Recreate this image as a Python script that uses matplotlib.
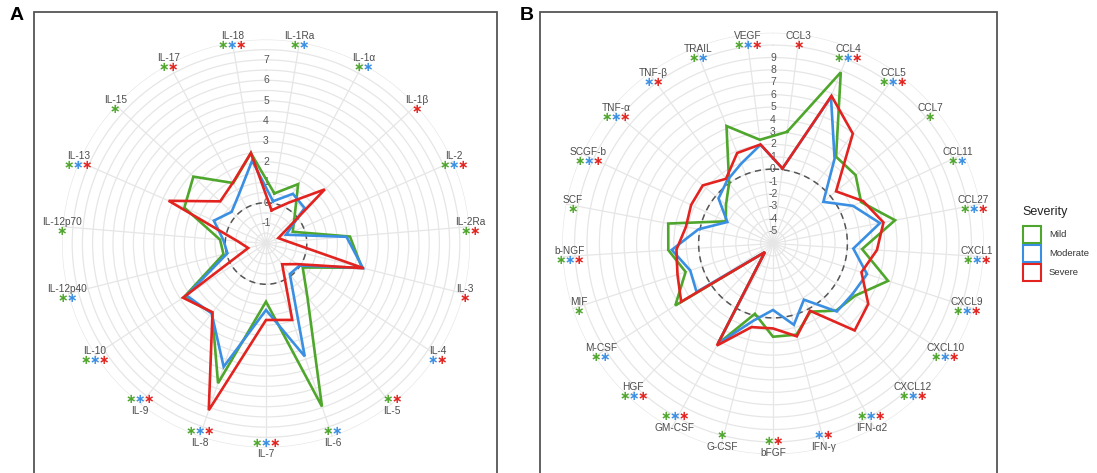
import numpy as np
import matplotlib
matplotlib.use('Agg')
import matplotlib.pyplot as plt
from matplotlib.patches import Rectangle

plt.rcParams['font.family'] = ['Liberation Sans', 'DejaVu Sans']

# ---- data ----
severity = ['Mild', 'Moderate', 'Severe']
sev_colors = ['#4fa62c', '#3a8fe3', '#e2231f']
star_key = {'G': 0, 'B': 1, 'R': 2}

cyto_a = ['IL-1Ra', 'IL-1α', 'IL-1β', 'IL-2', 'IL-2Ra', 'IL-3', 'IL-4', 'IL-5',
          'IL-6', 'IL-7', 'IL-8', 'IL-9', 'IL-10', 'IL-12p40', 'IL-12p70',
          'IL-13', 'IL-15', 'IL-17', 'IL-18']
mild_a = [0.49, 1.31, -0.1, -0.57, 2.13, 2.85, 0.15, 1.3, 6.45, 0.85, 5.24,
          2.3, 2.8, 0.15, 0.26, 2.37, 2.84, 1.37, 2.49]
moderate_a = [0.1, 0.77, 0.57, -0.93, 1.96, 2.9, -0.03, -0.1, 3.85, 1.26, 4.39,
              2.34, 2.66, -0.05, 0.1, 0.79, 0.29, 0.77, 2.12]
severe_a = [-0.35, 0.26, 1.92, -1.34, -0.91, 2.95, -0.15, -0.71, 1.96, 1.75,
            6.64, 2.27, 2.86, -1.1, -0.6, 3.21, 1.05, 1.4, 2.5]
stars_a = ['GB', 'GB', 'R', 'GBR', 'GR', 'R', 'BR', 'GR', 'GB', 'GBR', 'GBR',
           'GBR', 'GBR', 'GB', 'G', 'GBR', 'G', 'GR', 'GBR']

cyto_b = ['CCL3', 'CCL4', 'CCL5', 'CCL7', 'CCL11', 'CCL27', 'CXCL1', 'CXCL9',
          'CXCL10', 'CXCL12', 'IFN-α2', 'IFN-γ', 'bFGF', 'G-CSF', 'GM-CSF',
          'HGF', 'M-CSF', 'MIF', 'b-NGF', 'SCF', 'SCGF-b', 'TNF-α', 'TNF-β',
          'TRAIL', 'VEGF']
mild_b = [3.08, 8.85, 2.65, 2.65, 1.85, 4.02, 1.2, 3.76, 1.85, 1.43, 0.27, 1.59,
          1.52, -0.15, 3.24, -5.05, 3.33, 1.41, 2.46, 2.6, -1.8, -1.08, 0.02,
          4.19, 2.43]
moderate_b = [0.1, 6.7, 2.45, -0.73, 1.13, 2.78, 0.49, 1.97, 1.6, 1.52, -0.83,
              0.77, -0.64, 0.44, 3.24, -5.05, 1.3, 1.02, 2.18, 0.12, -1.93,
              -0.3, 0.29, 0.94, 2.03]
severe_b = [0.1, 6.81, 4.95, 0.6, 2.03, 3.07, 2.4, 1.5, 3.1, 3.62, 0.19, 1.73,
            0.85, 0.96, 3.39, -5.05, 2.77, 2.1, 1.8, 1.15, 1.3, 1.35, 0.45,
            1.85, 2.05]
stars_b = ['R', 'GBR', 'GBR', 'G', 'GB', 'GBR', 'GBR', 'GBR', 'GBR', 'GBR',
           'GBR', 'BR', 'GR', 'G', 'GBR', 'GBR', 'GB', 'G', 'GBR', 'G', 'GBR',
           'GBR', 'BR', 'GB', 'GBR']

W, H = 1097, 473
fig = plt.figure(figsize=(W / 100, H / 100), dpi=100)


def px_box(cx, cy, r):
    return [(cx - r) / W, 1 - (cy + r) / H, 2 * r / W, 2 * r / H]


def radar(cx, cy, r_px, cats, series, stars, rlim, grid_levels, rlabels, label_r):
    ax = fig.add_axes(px_box(cx, cy, r_px), projection='polar')
    ax.set_theta_zero_location('N')
    ax.set_theta_direction(-1)
    ax.set_facecolor('none')
    n = len(cats)
    theta = (np.arange(n) + 0.5) * 2 * np.pi / n
    ax.set_ylim(*rlim)
    ax.set_yticks(grid_levels)
    ax.set_yticklabels([])
    ax.set_xticks(theta)
    ax.set_xticklabels([])
    ax.grid(True, color='#e6e6e6', lw=0.9)
    ax.spines['polar'].set_visible(False)
    ax.tick_params(length=0)

    for v in rlabels:
        ax.text(0, v, str(v), ha='center', va='center', fontsize=7.5,
                color='#555555', zorder=2)

    circ = np.linspace(0, 2 * np.pi, 300)
    ax.plot(circ, np.zeros_like(circ), color='#555555', lw=1.1,
            ls=(0, (4, 3)), zorder=3)

    tc = np.append(theta, theta[0])
    for vals, col in zip(series, sev_colors):
        ax.plot(tc, list(vals) + [vals[0]], color=col, lw=1.9,
                solid_joinstyle='miter', zorder=4)

    # category labels with significance stars
    for t, name, st in zip(theta, cats, stars):
        below = np.cos(t) < -0.75
        dy = -5.5 if below else 5
        ax.annotate(name, xy=(t, label_r), xytext=(0, dy),
                    textcoords='offset pixels', ha='center', va='center',
                    fontsize=7.3, color='#4d4d4d', annotation_clip=False)
        sy = 5 if below else -5
        k = len(st)
        for j, ch in enumerate(st):
            ax.annotate('∗', xy=(t, label_r),
                        xytext=((j - (k - 1) / 2) * 9, sy),
                        textcoords='offset pixels', ha='center', va='center',
                        fontsize=9, fontweight='bold',
                        color=sev_colors[star_key[ch]], annotation_clip=False)
    return ax


radar(266, 243.5, 204, cyto_a, [mild_a, moderate_a, severe_a], stars_a,
      (-2, 8), np.arange(-1.5, 8.01, 0.5), list(range(-1, 8)), 8.05)
radar(773, 243.5, 210.8, cyto_b, [mild_b, moderate_b, severe_b], stars_b,
      (-6, 11), np.arange(-5, 11.01, 1), list(range(-5, 10)), 10.45)

# panel frames and letters
for x0, x1 in [(34, 497), (540, 997)]:
    fig.add_artist(Rectangle((x0 / W, -0.05), (x1 - x0) / W, 1.05 - 12.5 / H,
                             transform=fig.transFigure, fill=False,
                             edgecolor='#555555', lw=1.3))
fig.text(17 / W, 1 - 16 / H, 'A', fontsize=14, fontweight='bold',
         ha='center', va='center')
fig.text(527 / W, 1 - 16 / H, 'B', fontsize=14, fontweight='bold',
         ha='center', va='center')

# legend
fig.text(1022 / W, 1 - 212.5 / H, 'Severity', fontsize=9, ha='left',
         va='center', color='#222222')
for i, (name, col) in enumerate(zip(severity, sev_colors)):
    y0 = 226 + i * 19
    fig.add_artist(Rectangle((1023 / W, 1 - (y0 + 17) / H), 18 / W, 17 / H,
                             transform=fig.transFigure, facecolor='white',
                             edgecolor=col, lw=1.5))
    fig.text(1049 / W, 1 - (y0 + 8.5) / H, name, fontsize=6.8, ha='left',
             va='center', color='#333333')

fig.savefig('out.png', dpi=100)
